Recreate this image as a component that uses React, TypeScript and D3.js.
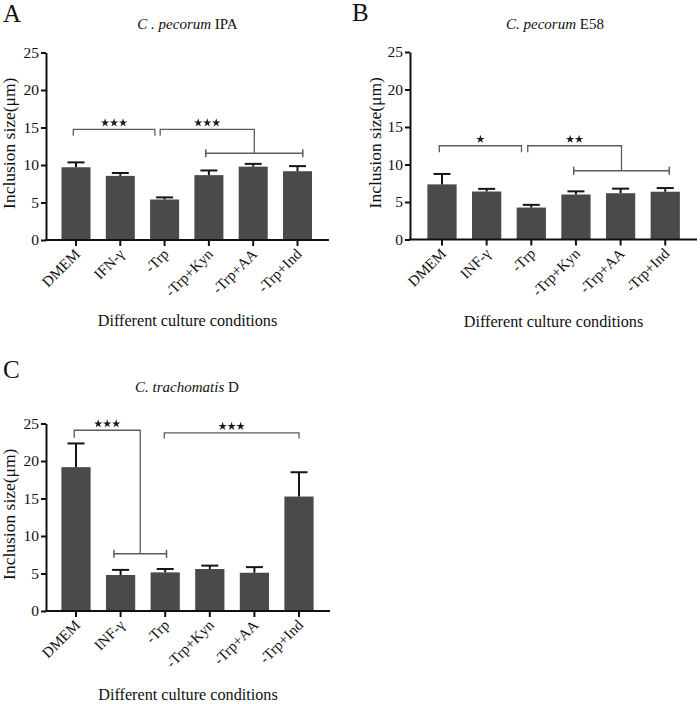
import React, { useEffect, useRef } from "react";
import * as d3 from "d3";

// ---------- data ----------
const categoriesA = ["DMEM", "IFN-γ", "-Trp", "-Trp+Kyn", "-Trp+AA", "-Trp+Ind"];
const categoriesBC = ["DMEM", "INF-γ", "-Trp", "-Trp+Kyn", "-Trp+AA", "-Trp+Ind"];
const yTicks = [0, 5, 10, 15, 20, 25];

const ipaMeans = [9.7, 8.55, 5.4, 8.65, 9.78, 9.17];
const ipaErrors = [0.65, 0.38, 0.28, 0.62, 0.37, 0.68];

const e58Means = [7.35, 6.4, 4.26, 6.0, 6.17, 6.37];
const e58Errors = [1.39, 0.35, 0.36, 0.42, 0.61, 0.49];

const trachMeans = [19.18, 4.8, 5.15, 5.6, 5.1, 15.26];
const trachErrors = [3.16, 0.68, 0.45, 0.45, 0.75, 3.24];

// significance brackets (category indices may be fractional; levels in data units)
const ipaBrackets = [
  { from: -0.06, to: -0.22 + 2, level: 14.76, drop: 0.85, stars: 3 },
  { from: 2 - 0.1, group: [3 - 0.07, 5 + 0.12, 11.56], level: 14.76, drop: 0.85, stars: 3 },
];
const e58Brackets = [
  { from: -0.06, to: 2 - 0.22, level: 12.5, drop: 0.88, stars: 1 },
  { from: 2 - 0.08, group: [3 - 0.05, 5 + 0.09, 9.17], level: 12.5, drop: 0.88, stars: 2 },
];
const trachBrackets = [
  { from: -0.04, group: [1 - 0.15, 2 + 0.03, 7.62], level: 24.1, drop: 1.0, stars: 3 },
  { from: 2 - 0.02, to: 5, level: 23.76, drop: 0.76, stars: 3 },
];

const FONT = "'Liberation Serif', 'Times New Roman', serif";

type Bracket = {
  from: number;
  to?: number;
  group?: number[];
  level: number;
  drop: number;
  stars: number;
};

type PanelCfg = {
  letter: string;
  letterX: number;
  letterY: number;
  titleItalic: string;
  titleRest: string;
  titleX: number;
  titleY: number;
  x0: number;
  x1: number;
  first: number;
  step: number;
  y0: number;
  cats: string[];
  means: number[];
  errors: number[];
  brackets: Bracket[];
  xTitleY: number;
  yLabelX: number;
};

const panels: PanelCfg[] = [
  {
    letter: "A", letterX: 3, letterY: 22,
    titleItalic: "C . pecorum", titleRest: " IPA", titleX: 187.5, titleY: 29,
    x0: 46, x1: 329, first: 76, step: 44.3, y0: 240,
    cats: categoriesA, means: ipaMeans, errors: ipaErrors, brackets: ipaBrackets,
    xTitleY: 326, yLabelX: 15,
  },
  {
    letter: "B", letterX: 352, letterY: 21,
    titleItalic: "C. pecorum", titleRest: " E58", titleX: 555, titleY: 29,
    x0: 410, x1: 697, first: 442, step: 44.65, y0: 239.5,
    cats: categoriesBC, means: e58Means, errors: e58Errors, brackets: e58Brackets,
    xTitleY: 326.5, yLabelX: 381,
  },
  {
    letter: "C", letterX: 3, letterY: 378,
    titleItalic: "C. trachomatis", titleRest: " D", titleX: 187, titleY: 392,
    x0: 46, x1: 330, first: 76, step: 44.6, y0: 611,
    cats: categoriesBC, means: trachMeans, errors: trachErrors, brackets: trachBrackets,
    xTitleY: 700, yLabelX: 15,
  },
];

function drawPanel(node: SVGGElement, p: PanelCfg) {
  const g = d3.select(node);
  g.selectAll("*").remove();

  const n = p.cats.length;
  const x = d3
    .scaleBand<string>()
    .domain(p.cats)
    .range([p.first - p.step / 2, p.first - p.step / 2 + p.step * n])
    .paddingInner(0.345)
    .paddingOuter(0.1725);
  const y = d3.scaleLinear().domain([0, 25]).range([p.y0, p.y0 - 187.5]);
  const bw = x.bandwidth();
  const cx = (i: number) => (x(p.cats[0]) as number) + bw / 2 + i * x.step();

  // bars
  g.selectAll("rect.bar")
    .data(p.means)
    .join("rect")
    .attr("class", "bar")
    .attr("x", (_d, i) => x(p.cats[i]) as number)
    .attr("y", (d) => y(d))
    .attr("width", bw)
    .attr("height", (d) => y(0) - y(d))
    .attr("fill", "#4a4a4a");

  // error bars (upper only)
  const eb = g.selectAll("g.err").data(p.means).join("g").attr("class", "err");
  eb.append("line")
    .attr("x1", (_d, i) => cx(i))
    .attr("x2", (_d, i) => cx(i))
    .attr("y1", (d) => y(d))
    .attr("y2", (d, i) => y(d + p.errors[i]))
    .attr("stroke", "#151515")
    .attr("stroke-width", 2);
  eb.append("line")
    .attr("x1", (_d, i) => cx(i) - 8.5)
    .attr("x2", (_d, i) => cx(i) + 8.5)
    .attr("y1", (d, i) => y(d + p.errors[i]))
    .attr("y2", (d, i) => y(d + p.errors[i]))
    .attr("stroke", "#151515")
    .attr("stroke-width", 2);

  // y axis
  const ya = g.append("g").attr("transform", `translate(${p.x0},0)`)
    .call(d3.axisLeft(y).tickValues(yTicks).tickSize(5).tickSizeOuter(0).tickPadding(2).tickFormat(d3.format("d")));
  ya.select(".domain").attr("stroke", "#111").attr("stroke-width", 2);
  ya.selectAll(".tick line").attr("stroke", "#111").attr("stroke-width", 2);
  ya.selectAll(".tick text").attr("font-family", FONT).attr("font-size", 15.5).attr("fill", "#111");

  // x axis line
  g.append("line")
    .attr("x1", p.x0 - 1).attr("x2", p.x1)
    .attr("y1", p.y0).attr("y2", p.y0)
    .attr("stroke", "#111").attr("stroke-width", 2);
  g.selectAll("line.xtick")
    .data(p.cats)
    .join("line")
    .attr("class", "xtick")
    .attr("x1", (_d, i) => cx(i)).attr("x2", (_d, i) => cx(i))
    .attr("y1", p.y0).attr("y2", p.y0 + 6)
    .attr("stroke", "#111").attr("stroke-width", 2);
  g.selectAll("text.xlab")
    .data(p.cats)
    .join("text")
    .attr("class", "xlab")
    .attr("transform", (_d, i) => `translate(${cx(i) + 5},${p.y0 + 15}) rotate(-45)`)
    .attr("text-anchor", "end")
    .attr("font-family", FONT)
    .attr("font-size", 15)
    .attr("fill", "#111")
    .text((d) => d);

  // brackets
  const stroke = "#5c5c5c";
  p.brackets.forEach((b) => {
    const lx = cx(b.from);
    const ly = y(b.level);
    const dropPx = y(b.level - b.drop) - ly;
    let rx: number;
    let rBottom: number;
    if (b.group) {
      const gx1 = cx(b.group[0]);
      const gx2 = cx(b.group[1]);
      const gy = y(b.group[2]);
      rx = (gx1 + gx2) / 2;
      rBottom = gy;
      g.append("line").attr("x1", gx1).attr("x2", gx2).attr("y1", gy).attr("y2", gy)
        .attr("stroke", stroke).attr("stroke-width", 1.5);
      [gx1, gx2].forEach((xx) =>
        g.append("line").attr("x1", xx).attr("x2", xx).attr("y1", gy - 4).attr("y2", gy + 4)
          .attr("stroke", stroke).attr("stroke-width", 1.5)
      );
    } else {
      rx = cx(b.to as number);
      rBottom = ly + dropPx;
    }
    const path = d3.path();
    path.moveTo(lx, ly + dropPx);
    path.lineTo(lx, ly);
    path.lineTo(rx, ly);
    path.lineTo(rx, rBottom);
    g.append("path").attr("d", path.toString()).attr("fill", "none")
      .attr("stroke", stroke).attr("stroke-width", 1.3);

    const mid = (lx + rx) / 2;
    const star = d3.symbol().type(d3.symbolStar).size(22);
    for (let k = 0; k < b.stars; k++) {
      g.append("path")
        .attr("d", star() as string)
        .attr("transform", `translate(${mid + (k - (b.stars - 1) / 2) * 9},${ly - 6.5})`)
        .attr("fill", "#1a1a1a");
    }
  });

  // y label
  g.append("text")
    .attr("transform", `translate(${p.yLabelX},${(y(0) + y(25)) / 2 - 3}) rotate(-90)`)
    .attr("text-anchor", "middle")
    .attr("font-family", FONT)
    .attr("font-size", 17.5)
    .attr("fill", "#111")
    .text("Inclusion size(μm)");

  // x title
  g.append("text")
    .attr("x", (p.x0 + p.x1) / 2)
    .attr("y", p.xTitleY)
    .attr("text-anchor", "middle")
    .attr("font-family", FONT)
    .attr("font-size", 16.2)
    .attr("fill", "#111")
    .text("Different culture conditions");

  // chart title
  const t = g.append("text")
    .attr("x", p.titleX)
    .attr("y", p.titleY)
    .attr("text-anchor", "middle")
    .attr("font-family", FONT)
    .attr("font-size", 15)
    .attr("fill", "#111");
  t.append("tspan").attr("font-style", "italic").text(p.titleItalic);
  t.append("tspan").text(p.titleRest);

  // panel letter
  g.append("text")
    .attr("x", p.letterX)
    .attr("y", p.letterY)
    .attr("font-family", FONT)
    .attr("font-size", 25)
    .attr("fill", "#111")
    .text(p.letter);
}

function Panel({ cfg }: { cfg: PanelCfg }) {
  const ref = useRef<SVGGElement>(null);
  useEffect(() => {
    if (ref.current) drawPanel(ref.current, cfg);
  }, [cfg]);
  return <g ref={ref} />;
}

export default function App() {
  return (
    <svg
      width={700}
      height={704}
      style={{ position: "absolute", left: 0, top: 0, background: "#fff" }}
    >
      <rect width={700} height={704} fill="#fff" />
      {panels.map((p) => (
        <Panel key={p.letter} cfg={p} />
      ))}
    </svg>
  );
}
